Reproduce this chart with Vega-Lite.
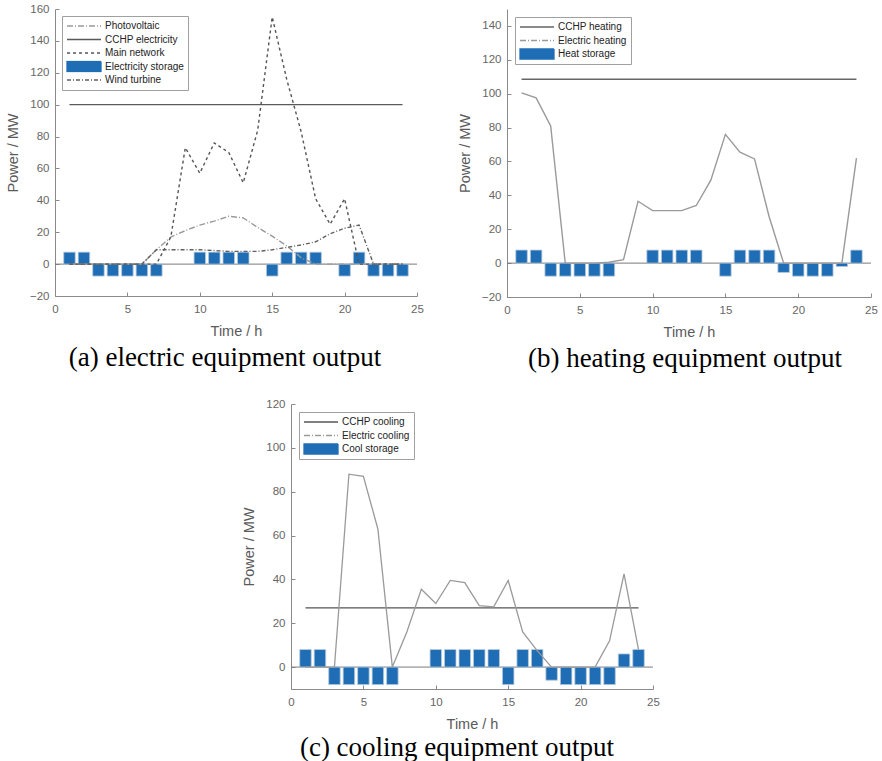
{
  "$schema": "https://vega.github.io/schema/vega-lite/v6.json",
  "padding": {"left": 5, "top": 3, "right": 0, "bottom": 0},
  "background": "white",
  "datasets": {
    "zero": [{"v": 0}],
    "empty": [],
    "a_lines": [
      {"s": "Photovoltaic", "t": 1, "v": 0}, {"s": "Photovoltaic", "t": 2, "v": 0}, {"s": "Photovoltaic", "t": 3, "v": 0}, {"s": "Photovoltaic", "t": 4, "v": 0}, {"s": "Photovoltaic", "t": 5, "v": 0}, {"s": "Photovoltaic", "t": 6, "v": 0}, {"s": "Photovoltaic", "t": 7, "v": 9}, {"s": "Photovoltaic", "t": 8, "v": 17}, {"s": "Photovoltaic", "t": 9, "v": 21}, {"s": "Photovoltaic", "t": 10, "v": 24.5}, {"s": "Photovoltaic", "t": 11, "v": 27}, {"s": "Photovoltaic", "t": 12, "v": 30}, {"s": "Photovoltaic", "t": 13, "v": 29}, {"s": "Photovoltaic", "t": 14, "v": 23}, {"s": "Photovoltaic", "t": 15, "v": 17.5}, {"s": "Photovoltaic", "t": 16, "v": 11.5}, {"s": "Photovoltaic", "t": 17, "v": 4}, {"s": "Photovoltaic", "t": 18, "v": 0}, {"s": "Photovoltaic", "t": 19, "v": 0}, {"s": "Photovoltaic", "t": 20, "v": 0}, {"s": "Photovoltaic", "t": 21, "v": 0}, {"s": "Photovoltaic", "t": 22, "v": 0}, {"s": "Photovoltaic", "t": 23, "v": 0}, {"s": "Photovoltaic", "t": 24, "v": 0},
      {"s": "CCHP electricity", "t": 1, "v": 100}, {"s": "CCHP electricity", "t": 2, "v": 100}, {"s": "CCHP electricity", "t": 3, "v": 100}, {"s": "CCHP electricity", "t": 4, "v": 100}, {"s": "CCHP electricity", "t": 5, "v": 100}, {"s": "CCHP electricity", "t": 6, "v": 100}, {"s": "CCHP electricity", "t": 7, "v": 100}, {"s": "CCHP electricity", "t": 8, "v": 100}, {"s": "CCHP electricity", "t": 9, "v": 100}, {"s": "CCHP electricity", "t": 10, "v": 100}, {"s": "CCHP electricity", "t": 11, "v": 100}, {"s": "CCHP electricity", "t": 12, "v": 100}, {"s": "CCHP electricity", "t": 13, "v": 100}, {"s": "CCHP electricity", "t": 14, "v": 100}, {"s": "CCHP electricity", "t": 15, "v": 100}, {"s": "CCHP electricity", "t": 16, "v": 100}, {"s": "CCHP electricity", "t": 17, "v": 100}, {"s": "CCHP electricity", "t": 18, "v": 100}, {"s": "CCHP electricity", "t": 19, "v": 100}, {"s": "CCHP electricity", "t": 20, "v": 100}, {"s": "CCHP electricity", "t": 21, "v": 100}, {"s": "CCHP electricity", "t": 22, "v": 100}, {"s": "CCHP electricity", "t": 23, "v": 100}, {"s": "CCHP electricity", "t": 24, "v": 100},
      {"s": "Main network", "t": 1, "v": 0}, {"s": "Main network", "t": 2, "v": 0}, {"s": "Main network", "t": 3, "v": 0}, {"s": "Main network", "t": 4, "v": 0}, {"s": "Main network", "t": 5, "v": 0}, {"s": "Main network", "t": 6, "v": 0}, {"s": "Main network", "t": 7, "v": 0}, {"s": "Main network", "t": 8, "v": 17}, {"s": "Main network", "t": 9, "v": 73}, {"s": "Main network", "t": 10, "v": 57}, {"s": "Main network", "t": 11, "v": 76}, {"s": "Main network", "t": 12, "v": 70}, {"s": "Main network", "t": 13, "v": 51}, {"s": "Main network", "t": 14, "v": 84}, {"s": "Main network", "t": 15, "v": 155}, {"s": "Main network", "t": 16, "v": 116}, {"s": "Main network", "t": 17, "v": 83}, {"s": "Main network", "t": 18, "v": 41}, {"s": "Main network", "t": 19, "v": 25}, {"s": "Main network", "t": 20, "v": 41}, {"s": "Main network", "t": 21, "v": 0}, {"s": "Main network", "t": 22, "v": 0}, {"s": "Main network", "t": 23, "v": 0}, {"s": "Main network", "t": 24, "v": 0},
      {"s": "Wind turbine", "t": 1, "v": 0}, {"s": "Wind turbine", "t": 2, "v": 0}, {"s": "Wind turbine", "t": 3, "v": 0}, {"s": "Wind turbine", "t": 4, "v": 0}, {"s": "Wind turbine", "t": 5, "v": 0}, {"s": "Wind turbine", "t": 6, "v": 0}, {"s": "Wind turbine", "t": 7, "v": 9}, {"s": "Wind turbine", "t": 8, "v": 9}, {"s": "Wind turbine", "t": 9, "v": 9}, {"s": "Wind turbine", "t": 10, "v": 9}, {"s": "Wind turbine", "t": 11, "v": 8.5}, {"s": "Wind turbine", "t": 12, "v": 8}, {"s": "Wind turbine", "t": 13, "v": 8}, {"s": "Wind turbine", "t": 14, "v": 8}, {"s": "Wind turbine", "t": 15, "v": 9}, {"s": "Wind turbine", "t": 16, "v": 10.5}, {"s": "Wind turbine", "t": 17, "v": 12}, {"s": "Wind turbine", "t": 18, "v": 14}, {"s": "Wind turbine", "t": 19, "v": 19}, {"s": "Wind turbine", "t": 20, "v": 22.5}, {"s": "Wind turbine", "t": 21, "v": 24.5}, {"s": "Wind turbine", "t": 22, "v": 0}, {"s": "Wind turbine", "t": 23, "v": 0}, {"s": "Wind turbine", "t": 24, "v": 0}
    ],
    "a_bars": [
      {"s": "Electricity storage", "t": 1, "v": 7.5}, {"s": "Electricity storage", "t": 2, "v": 7.5}, {"s": "Electricity storage", "t": 3, "v": -7.5}, {"s": "Electricity storage", "t": 4, "v": -7.5}, {"s": "Electricity storage", "t": 5, "v": -7.5}, {"s": "Electricity storage", "t": 6, "v": -7.5}, {"s": "Electricity storage", "t": 7, "v": -7.5}, {"s": "Electricity storage", "t": 10, "v": 7.5}, {"s": "Electricity storage", "t": 11, "v": 7.5}, {"s": "Electricity storage", "t": 12, "v": 7.5}, {"s": "Electricity storage", "t": 13, "v": 7.5}, {"s": "Electricity storage", "t": 15, "v": -7.5}, {"s": "Electricity storage", "t": 16, "v": 7.5}, {"s": "Electricity storage", "t": 17, "v": 7.5}, {"s": "Electricity storage", "t": 18, "v": 7.5}, {"s": "Electricity storage", "t": 20, "v": -7.5}, {"s": "Electricity storage", "t": 21, "v": 7.5}, {"s": "Electricity storage", "t": 22, "v": -7.5}, {"s": "Electricity storage", "t": 23, "v": -7.5}, {"s": "Electricity storage", "t": 24, "v": -7.5}
    ],
    "b_lines": [
      {"s": "CCHP heating", "t": 1, "v": 108.5}, {"s": "CCHP heating", "t": 2, "v": 108.5}, {"s": "CCHP heating", "t": 3, "v": 108.5}, {"s": "CCHP heating", "t": 4, "v": 108.5}, {"s": "CCHP heating", "t": 5, "v": 108.5}, {"s": "CCHP heating", "t": 6, "v": 108.5}, {"s": "CCHP heating", "t": 7, "v": 108.5}, {"s": "CCHP heating", "t": 8, "v": 108.5}, {"s": "CCHP heating", "t": 9, "v": 108.5}, {"s": "CCHP heating", "t": 10, "v": 108.5}, {"s": "CCHP heating", "t": 11, "v": 108.5}, {"s": "CCHP heating", "t": 12, "v": 108.5}, {"s": "CCHP heating", "t": 13, "v": 108.5}, {"s": "CCHP heating", "t": 14, "v": 108.5}, {"s": "CCHP heating", "t": 15, "v": 108.5}, {"s": "CCHP heating", "t": 16, "v": 108.5}, {"s": "CCHP heating", "t": 17, "v": 108.5}, {"s": "CCHP heating", "t": 18, "v": 108.5}, {"s": "CCHP heating", "t": 19, "v": 108.5}, {"s": "CCHP heating", "t": 20, "v": 108.5}, {"s": "CCHP heating", "t": 21, "v": 108.5}, {"s": "CCHP heating", "t": 22, "v": 108.5}, {"s": "CCHP heating", "t": 23, "v": 108.5}, {"s": "CCHP heating", "t": 24, "v": 108.5},
      {"s": "Electric heating", "t": 1, "v": 100.5}, {"s": "Electric heating", "t": 2, "v": 97.5}, {"s": "Electric heating", "t": 3, "v": 81}, {"s": "Electric heating", "t": 4, "v": 0}, {"s": "Electric heating", "t": 5, "v": 0}, {"s": "Electric heating", "t": 6, "v": 0}, {"s": "Electric heating", "t": 7, "v": 0.5}, {"s": "Electric heating", "t": 8, "v": 2}, {"s": "Electric heating", "t": 9, "v": 36.5}, {"s": "Electric heating", "t": 10, "v": 31}, {"s": "Electric heating", "t": 11, "v": 31}, {"s": "Electric heating", "t": 12, "v": 31}, {"s": "Electric heating", "t": 13, "v": 34}, {"s": "Electric heating", "t": 14, "v": 49}, {"s": "Electric heating", "t": 15, "v": 76}, {"s": "Electric heating", "t": 16, "v": 65.5}, {"s": "Electric heating", "t": 17, "v": 61.5}, {"s": "Electric heating", "t": 18, "v": 27.5}, {"s": "Electric heating", "t": 19, "v": 0}, {"s": "Electric heating", "t": 20, "v": 0}, {"s": "Electric heating", "t": 21, "v": 0}, {"s": "Electric heating", "t": 22, "v": 0}, {"s": "Electric heating", "t": 23, "v": 0}, {"s": "Electric heating", "t": 24, "v": 62}
    ],
    "b_bars": [
      {"s": "Heat storage", "t": 1, "v": 7.7}, {"s": "Heat storage", "t": 2, "v": 7.7}, {"s": "Heat storage", "t": 3, "v": -7.7}, {"s": "Heat storage", "t": 4, "v": -7.7}, {"s": "Heat storage", "t": 5, "v": -7.7}, {"s": "Heat storage", "t": 6, "v": -7.7}, {"s": "Heat storage", "t": 7, "v": -7.7}, {"s": "Heat storage", "t": 10, "v": 7.7}, {"s": "Heat storage", "t": 11, "v": 7.7}, {"s": "Heat storage", "t": 12, "v": 7.7}, {"s": "Heat storage", "t": 13, "v": 7.7}, {"s": "Heat storage", "t": 15, "v": -7.7}, {"s": "Heat storage", "t": 16, "v": 7.7}, {"s": "Heat storage", "t": 17, "v": 7.7}, {"s": "Heat storage", "t": 18, "v": 7.7}, {"s": "Heat storage", "t": 19, "v": -5.5}, {"s": "Heat storage", "t": 20, "v": -7.7}, {"s": "Heat storage", "t": 21, "v": -7.7}, {"s": "Heat storage", "t": 22, "v": -7.7}, {"s": "Heat storage", "t": 23, "v": -2}, {"s": "Heat storage", "t": 24, "v": 7.7}
    ],
    "c_lines": [
      {"s": "CCHP cooling", "t": 1, "v": 27}, {"s": "CCHP cooling", "t": 2, "v": 27}, {"s": "CCHP cooling", "t": 3, "v": 27}, {"s": "CCHP cooling", "t": 4, "v": 27}, {"s": "CCHP cooling", "t": 5, "v": 27}, {"s": "CCHP cooling", "t": 6, "v": 27}, {"s": "CCHP cooling", "t": 7, "v": 27}, {"s": "CCHP cooling", "t": 8, "v": 27}, {"s": "CCHP cooling", "t": 9, "v": 27}, {"s": "CCHP cooling", "t": 10, "v": 27}, {"s": "CCHP cooling", "t": 11, "v": 27}, {"s": "CCHP cooling", "t": 12, "v": 27}, {"s": "CCHP cooling", "t": 13, "v": 27}, {"s": "CCHP cooling", "t": 14, "v": 27}, {"s": "CCHP cooling", "t": 15, "v": 27}, {"s": "CCHP cooling", "t": 16, "v": 27}, {"s": "CCHP cooling", "t": 17, "v": 27}, {"s": "CCHP cooling", "t": 18, "v": 27}, {"s": "CCHP cooling", "t": 19, "v": 27}, {"s": "CCHP cooling", "t": 20, "v": 27}, {"s": "CCHP cooling", "t": 21, "v": 27}, {"s": "CCHP cooling", "t": 22, "v": 27}, {"s": "CCHP cooling", "t": 23, "v": 27}, {"s": "CCHP cooling", "t": 24, "v": 27},
      {"s": "Electric cooling", "t": 1, "v": 0}, {"s": "Electric cooling", "t": 2, "v": 0}, {"s": "Electric cooling", "t": 3, "v": 0}, {"s": "Electric cooling", "t": 4, "v": 88}, {"s": "Electric cooling", "t": 5, "v": 87}, {"s": "Electric cooling", "t": 6, "v": 63}, {"s": "Electric cooling", "t": 7, "v": 0}, {"s": "Electric cooling", "t": 8, "v": 16}, {"s": "Electric cooling", "t": 9, "v": 35.5}, {"s": "Electric cooling", "t": 10, "v": 29}, {"s": "Electric cooling", "t": 11, "v": 39.5}, {"s": "Electric cooling", "t": 12, "v": 38.5}, {"s": "Electric cooling", "t": 13, "v": 28}, {"s": "Electric cooling", "t": 14, "v": 27.5}, {"s": "Electric cooling", "t": 15, "v": 39.5}, {"s": "Electric cooling", "t": 16, "v": 16}, {"s": "Electric cooling", "t": 17, "v": 7.5}, {"s": "Electric cooling", "t": 18, "v": 0}, {"s": "Electric cooling", "t": 19, "v": 0}, {"s": "Electric cooling", "t": 20, "v": 0}, {"s": "Electric cooling", "t": 21, "v": 0}, {"s": "Electric cooling", "t": 22, "v": 12}, {"s": "Electric cooling", "t": 23, "v": 42.5}, {"s": "Electric cooling", "t": 24, "v": 8}
    ],
    "c_bars": [
      {"s": "Cool storage", "t": 1, "v": 8}, {"s": "Cool storage", "t": 2, "v": 8}, {"s": "Cool storage", "t": 3, "v": -8}, {"s": "Cool storage", "t": 4, "v": -8}, {"s": "Cool storage", "t": 5, "v": -8}, {"s": "Cool storage", "t": 6, "v": -8}, {"s": "Cool storage", "t": 7, "v": -8}, {"s": "Cool storage", "t": 10, "v": 8}, {"s": "Cool storage", "t": 11, "v": 8}, {"s": "Cool storage", "t": 12, "v": 8}, {"s": "Cool storage", "t": 13, "v": 8}, {"s": "Cool storage", "t": 14, "v": 8}, {"s": "Cool storage", "t": 15, "v": -8}, {"s": "Cool storage", "t": 16, "v": 8}, {"s": "Cool storage", "t": 17, "v": 8}, {"s": "Cool storage", "t": 18, "v": -6}, {"s": "Cool storage", "t": 19, "v": -8}, {"s": "Cool storage", "t": 20, "v": -8}, {"s": "Cool storage", "t": 21, "v": -8}, {"s": "Cool storage", "t": 22, "v": -8}, {"s": "Cool storage", "t": 23, "v": 6}, {"s": "Cool storage", "t": 24, "v": 8}
    ]
  },
  "vconcat": [
    {
      "hconcat": [
        {
          "width": 362, "height": 287,
          "title": {"text": "(a) electric equipment output", "dx": -11, "offset": 7},
          "layer": [
            {"data": {"name": "zero"}, "mark": {"type": "rule", "color": "#7a7a7a", "strokeWidth": 1},
             "encoding": {"y": {"field": "v", "type": "quantitative", "scale": {"domain": [-20, 160], "nice": false, "zero": false}, "axis": {"values": [-20, 0, 20, 40, 60, 80, 100, 120, 140, 160], "title": "Power / MW", "labelOverlap": false, "labelSeparation": -40}}}},
            {"data": {"name": "a_bars"}, "mark": {"type": "bar", "orient": "vertical", "size": 11.5, "stroke": "#b9c9da", "strokeWidth": 0.8},
             "encoding": {
               "x": {"field": "t", "type": "quantitative", "scale": {"domain": [0, 25], "nice": false, "padding": 0}, "axis": {"values": [0, 5, 10, 15, 20, 25], "title": "Time / h", "labelOverlap": false}},
               "y": {"field": "v", "type": "quantitative", "scale": {"domain": [-20, 160], "nice": false, "zero": false}, "axis": {"values": [-20, 0, 20, 40, 60, 80, 100, 120, 140, 160], "title": "Power / MW", "labelOverlap": false, "labelSeparation": -40}},
               "color": {"field": "s", "type": "nominal",
                 "scale": {"domain": ["Photovoltaic", "CCHP electricity", "Main network", "Electricity storage", "Wind turbine"], "range": ["#9a9a9a", "#5a5a5a", "#555555", "#1f6eb5", "#606060"]},
                 "legend": {"title": null, "orient": "top-left", "offset": 7,
                   "encoding": {"symbols": {
                     "shape": {"condition": {"test": "datum.value === 'Electricity storage'", "value": "M-1,-0.3H1V0.3H-1Z"}, "value": "stroke"},
                     "fill": {"condition": {"test": "datum.value === 'Electricity storage'", "value": "#1f6eb5"}, "value": "transparent"},
                     "stroke": {"condition": [{"test": "datum.value === 'Electricity storage'", "value": "#1f6eb5"}, {"test": "datum.value === 'Photovoltaic'", "value": "#9a9a9a"}], "value": "#555555"},
                     "strokeDash": {"condition": [{"test": "datum.value === 'Photovoltaic'", "value": [6, 2, 1, 2]}, {"test": "datum.value === 'Main network'", "value": [3, 3]}, {"test": "datum.value === 'Wind turbine'", "value": [4, 2, 1, 2]}], "value": [1, 0]}
                   }}}}
             }},
            {"data": {"name": "a_lines"}, "mark": {"type": "line", "strokeWidth": 1.4},
             "encoding": {
               "x": {"field": "t", "type": "quantitative", "scale": {"domain": [0, 25], "nice": false, "padding": 0}, "axis": {"values": [0, 5, 10, 15, 20, 25], "title": "Time / h", "labelOverlap": false}},
               "y": {"field": "v", "type": "quantitative", "scale": {"domain": [-20, 160], "nice": false, "zero": false}, "axis": {"values": [-20, 0, 20, 40, 60, 80, 100, 120, 140, 160], "title": "Power / MW", "labelOverlap": false, "labelSeparation": -40}},
               "color": {"field": "s", "type": "nominal",
                 "scale": {"domain": ["Photovoltaic", "CCHP electricity", "Main network", "Electricity storage", "Wind turbine"], "range": ["#9a9a9a", "#5a5a5a", "#555555", "#1f6eb5", "#606060"]},
                 "legend": {"title": null, "orient": "top-left", "offset": 7,
                   "encoding": {"symbols": {
                     "shape": {"condition": {"test": "datum.value === 'Electricity storage'", "value": "M-1,-0.3H1V0.3H-1Z"}, "value": "stroke"},
                     "fill": {"condition": {"test": "datum.value === 'Electricity storage'", "value": "#1f6eb5"}, "value": "transparent"},
                     "stroke": {"condition": [{"test": "datum.value === 'Electricity storage'", "value": "#1f6eb5"}, {"test": "datum.value === 'Photovoltaic'", "value": "#9a9a9a"}], "value": "#555555"},
                     "strokeDash": {"condition": [{"test": "datum.value === 'Photovoltaic'", "value": [6, 2, 1, 2]}, {"test": "datum.value === 'Main network'", "value": [3, 3]}, {"test": "datum.value === 'Wind turbine'", "value": [4, 2, 1, 2]}], "value": [1, 0]}
                   }}}},
               "strokeDash": {"field": "s", "type": "nominal",
                 "scale": {"domain": ["Photovoltaic", "CCHP electricity", "Main network", "Electricity storage", "Wind turbine"], "range": [[6, 2, 1, 2], [1, 0], [3, 3], [1, 0], [4, 2, 1, 2]]},
                 "legend": {"title": null, "orient": "top-left", "offset": 7,
                   "encoding": {"symbols": {
                     "shape": {"condition": {"test": "datum.value === 'Electricity storage'", "value": "M-1,-0.3H1V0.3H-1Z"}, "value": "stroke"},
                     "fill": {"condition": {"test": "datum.value === 'Electricity storage'", "value": "#1f6eb5"}, "value": "transparent"},
                     "stroke": {"condition": [{"test": "datum.value === 'Electricity storage'", "value": "#1f6eb5"}, {"test": "datum.value === 'Photovoltaic'", "value": "#9a9a9a"}], "value": "#555555"},
                     "strokeDash": {"condition": [{"test": "datum.value === 'Photovoltaic'", "value": [6, 2, 1, 2]}, {"test": "datum.value === 'Main network'", "value": [3, 3]}, {"test": "datum.value === 'Wind turbine'", "value": [4, 2, 1, 2]}], "value": [1, 0]}
                   }}}}
             }}
          ]
        },
        {
          "width": 364, "height": 288,
          "title": {"text": "(b) heating equipment output", "dx": -4, "offset": 7},
          "layer": [
            {"data": {"name": "zero"}, "mark": {"type": "rule", "color": "#7a7a7a", "strokeWidth": 1},
             "encoding": {"y": {"field": "v", "type": "quantitative", "scale": {"domain": [-20, 150], "nice": false, "zero": false}, "axis": {"values": [-20, 0, 20, 40, 60, 80, 100, 120, 140], "title": "Power / MW", "labelOverlap": false, "labelSeparation": -40}}}},
            {"data": {"name": "b_bars"}, "mark": {"type": "bar", "orient": "vertical", "size": 11.5, "stroke": "#b9c9da", "strokeWidth": 0.8},
             "encoding": {
               "x": {"field": "t", "type": "quantitative", "scale": {"domain": [0, 25], "nice": false, "padding": 0}, "axis": {"values": [0, 5, 10, 15, 20, 25], "title": "Time / h", "labelOverlap": false}},
               "y": {"field": "v", "type": "quantitative", "scale": {"domain": [-20, 150], "nice": false, "zero": false}, "axis": {"values": [-20, 0, 20, 40, 60, 80, 100, 120, 140], "title": "Power / MW", "labelOverlap": false, "labelSeparation": -40}},
               "color": {"field": "s", "type": "nominal",
                 "scale": {"domain": ["CCHP heating", "Electric heating", "Heat storage"], "range": ["#666666", "#9a9a9a", "#1f6eb5"]},
                 "legend": {"title": null, "orient": "top-left", "offset": 8,
                   "encoding": {"symbols": {
                     "shape": {"condition": {"test": "datum.value === 'Heat storage'", "value": "M-1,-0.3H1V0.3H-1Z"}, "value": "stroke"},
                     "fill": {"condition": {"test": "datum.value === 'Heat storage'", "value": "#1f6eb5"}, "value": "transparent"},
                     "stroke": {"condition": [{"test": "datum.value === 'Heat storage'", "value": "#1f6eb5"}, {"test": "datum.value === 'Electric heating'", "value": "#9a9a9a"}], "value": "#666666"},
                     "strokeDash": {"condition": [{"test": "datum.value === 'Electric heating'", "value": [6, 2, 1, 2]}], "value": [1, 0]}
                   }}}}
             }},
            {"data": {"name": "b_lines"}, "mark": {"type": "line", "strokeWidth": 1.4},
             "encoding": {
               "x": {"field": "t", "type": "quantitative", "scale": {"domain": [0, 25], "nice": false, "padding": 0}, "axis": {"values": [0, 5, 10, 15, 20, 25], "title": "Time / h", "labelOverlap": false}},
               "y": {"field": "v", "type": "quantitative", "scale": {"domain": [-20, 150], "nice": false, "zero": false}, "axis": {"values": [-20, 0, 20, 40, 60, 80, 100, 120, 140], "title": "Power / MW", "labelOverlap": false, "labelSeparation": -40}},
               "color": {"field": "s", "type": "nominal",
                 "scale": {"domain": ["CCHP heating", "Electric heating", "Heat storage"], "range": ["#666666", "#9a9a9a", "#1f6eb5"]},
                 "legend": {"title": null, "orient": "top-left", "offset": 8,
                   "encoding": {"symbols": {
                     "shape": {"condition": {"test": "datum.value === 'Heat storage'", "value": "M-1,-0.3H1V0.3H-1Z"}, "value": "stroke"},
                     "fill": {"condition": {"test": "datum.value === 'Heat storage'", "value": "#1f6eb5"}, "value": "transparent"},
                     "stroke": {"condition": [{"test": "datum.value === 'Heat storage'", "value": "#1f6eb5"}, {"test": "datum.value === 'Electric heating'", "value": "#9a9a9a"}], "value": "#666666"},
                     "strokeDash": {"condition": [{"test": "datum.value === 'Electric heating'", "value": [6, 2, 1, 2]}], "value": [1, 0]}
                   }}}}
             }}
          ]
        }
      ],
      "spacing": 33,
      "resolve": {"scale": {"x": "independent", "y": "independent", "color": "independent", "strokeDash": "independent"}, "legend": {"color": "independent", "strokeDash": "independent"}}
    },
    {
      "hconcat": [
        {"width": 186, "height": 1, "data": {"name": "empty"}, "mark": {"type": "point", "opacity": 0}},
        {
          "width": 362, "height": 285,
          "title": {"text": "(c) cooling equipment output", "dx": -15, "offset": 4},
          "layer": [
            {"data": {"name": "zero"}, "mark": {"type": "rule", "color": "#7a7a7a", "strokeWidth": 1},
             "encoding": {"y": {"field": "v", "type": "quantitative", "scale": {"domain": [-10, 120], "nice": false, "zero": false}, "axis": {"values": [0, 20, 40, 60, 80, 100, 120], "title": "Power / MW", "labelOverlap": false}}}},
            {"data": {"name": "c_bars"}, "mark": {"type": "bar", "orient": "vertical", "size": 11.5, "stroke": "#b9c9da", "strokeWidth": 0.8},
             "encoding": {
               "x": {"field": "t", "type": "quantitative", "scale": {"domain": [0, 25], "nice": false, "padding": 0}, "axis": {"values": [0, 5, 10, 15, 20, 25], "title": "Time / h", "labelOverlap": false}},
               "y": {"field": "v", "type": "quantitative", "scale": {"domain": [-10, 120], "nice": false, "zero": false}, "axis": {"values": [0, 20, 40, 60, 80, 100, 120], "title": "Power / MW", "labelOverlap": false}},
               "color": {"field": "s", "type": "nominal",
                 "scale": {"domain": ["CCHP cooling", "Electric cooling", "Cool storage"], "range": ["#555555", "#9a9a9a", "#1f6eb5"]},
                 "legend": {"title": null, "orient": "top-left", "offset": 8,
                   "encoding": {"symbols": {
                     "shape": {"condition": {"test": "datum.value === 'Cool storage'", "value": "M-1,-0.3H1V0.3H-1Z"}, "value": "stroke"},
                     "fill": {"condition": {"test": "datum.value === 'Cool storage'", "value": "#1f6eb5"}, "value": "transparent"},
                     "stroke": {"condition": [{"test": "datum.value === 'Cool storage'", "value": "#1f6eb5"}, {"test": "datum.value === 'Electric cooling'", "value": "#9a9a9a"}], "value": "#444444"},
                     "strokeDash": {"condition": [{"test": "datum.value === 'Electric cooling'", "value": [6, 2, 1, 2]}], "value": [1, 0]}
                   }}}}
             }},
            {"data": {"name": "c_lines"}, "mark": {"type": "line", "strokeWidth": 1.3},
             "encoding": {
               "x": {"field": "t", "type": "quantitative", "scale": {"domain": [0, 25], "nice": false, "padding": 0}, "axis": {"values": [0, 5, 10, 15, 20, 25], "title": "Time / h", "labelOverlap": false}},
               "y": {"field": "v", "type": "quantitative", "scale": {"domain": [-10, 120], "nice": false, "zero": false}, "axis": {"values": [0, 20, 40, 60, 80, 100, 120], "title": "Power / MW", "labelOverlap": false}},
               "color": {"field": "s", "type": "nominal",
                 "scale": {"domain": ["CCHP cooling", "Electric cooling", "Cool storage"], "range": ["#555555", "#9a9a9a", "#1f6eb5"]},
                 "legend": {"title": null, "orient": "top-left", "offset": 8,
                   "encoding": {"symbols": {
                     "shape": {"condition": {"test": "datum.value === 'Cool storage'", "value": "M-1,-0.3H1V0.3H-1Z"}, "value": "stroke"},
                     "fill": {"condition": {"test": "datum.value === 'Cool storage'", "value": "#1f6eb5"}, "value": "transparent"},
                     "stroke": {"condition": [{"test": "datum.value === 'Cool storage'", "value": "#1f6eb5"}, {"test": "datum.value === 'Electric cooling'", "value": "#9a9a9a"}], "value": "#444444"},
                     "strokeDash": {"condition": [{"test": "datum.value === 'Electric cooling'", "value": [6, 2, 1, 2]}], "value": [1, 0]}
                   }}}}
             }}
          ]
        }
      ],
      "spacing": 0,
      "resolve": {"scale": {"x": "independent", "y": "independent", "color": "independent", "strokeDash": "independent"}, "legend": {"color": "independent", "strokeDash": "independent"}}
    }
  ],
  "spacing": 26,
  "resolve": {"scale": {"x": "independent", "y": "independent", "color": "independent", "strokeDash": "independent"}, "legend": {"color": "independent", "strokeDash": "independent"}},
  "config": {
    "view": {"stroke": null},
    "font": "Liberation Sans",
    "axis": {
      "grid": false,
      "domainColor": "#8a8a8a",
      "tickColor": "#8a8a8a",
      "tickSize": -4,
      "labelPadding": 10,
      "labelColor": "#666666",
      "titleColor": "#5a5a5a",
      "labelFont": "Liberation Sans",
      "titleFont": "Liberation Sans",
      "labelFontSize": 11.5,
      "titleFontSize": 14.5,
      "titleFontWeight": "normal",
      "labelFlush": false,
      "labelOverlap": false
    },
    "axisY": {"titlePadding": 9, "labelOverlap": false},
    "axisX": {"titlePadding": 10, "labelPadding": 11},
    "legend": {
      "strokeColor": "#a0a0a0",
      "fillColor": "white",
      "padding": 4,
      "labelFont": "Liberation Sans",
      "labelFontSize": 10,
      "labelColor": "#222222",
      "labelOffset": 3,
      "symbolSize": 1156,
      "symbolType": "stroke",
      "symbolStrokeWidth": 1.3,
      "clipHeight": 12,
      "rowPadding": 1.5,
      "cornerRadius": 0
    },
    "title": {
      "orient": "bottom",
      "anchor": "middle",
      "font": "Liberation Serif",
      "fontSize": 27,
      "fontWeight": "normal",
      "color": "#000000",
      "offset": 4
    }
  }
}
